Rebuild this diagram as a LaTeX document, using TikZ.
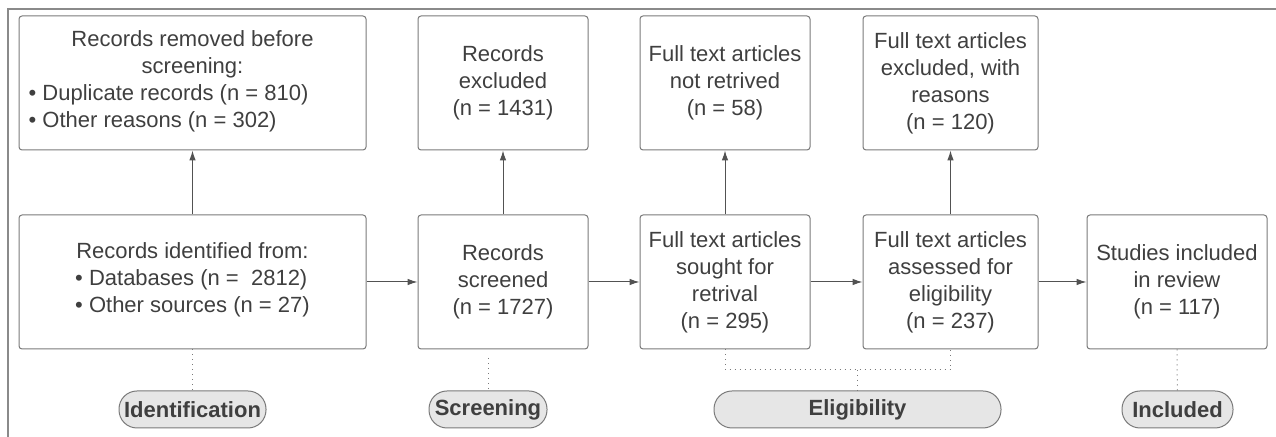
\documentclass[tikz,border=0pt]{standalone}
\usepackage{fontspec}
\setmainfont{Liberation Sans}
\usepackage{tikz}
\usetikzlibrary{arrows.meta}
\definecolor{linie}{HTML}{7A7A7A}
\definecolor{schrift}{HTML}{3F3F3F}
\definecolor{rahmenfarbe}{HTML}{8A8A8A}
\definecolor{phasenfill}{HTML}{E6E6E6}
\tikzset{kasten/.style={draw=linie, line width=0.5pt, rounded corners=1.5pt, text=schrift, align=center, minimum height=67pt, minimum width=#1, inner sep=0pt, font=\fontsize{11}{13.5}\selectfont},kasten/.default={85pt}}
\tikzset{phasenfeld/.style={draw=linie, line width=0.5pt, fill=phasenfill, rounded corners=9pt, text=schrift, minimum height=18.5pt, minimum width=#1, inner sep=0pt, font=\fontsize{11}{13.5}\selectfont\bfseries}}
\tikzset{pfeil/.style={-{Latex[length=5pt,width=3.3pt]}, draw=schrift!90, line width=0.5pt}}
\tikzset{punkte/.style={draw=linie, dotted, line width=0.5pt}}

\begin{document}
\begin{tikzpicture}[x=0.5pt, y=-0.5pt]
	\useasboundingbox (0,0) rectangle (1276,437);
	%Rahmen
	\draw[rahmenfarbe, line width=1pt] (8,437) -- (8,9.5) -- (1276,9.5);
	%Obere Reihe
	\node[kasten=173.5pt] (entfernt) at (192.5,83) {Records removed before\\screening:\\\begin{tabular}[t]{@{}l@{}}• Duplicate records (n = 810)\\• Other reasons (n = 302)\end{tabular}\hspace*{24pt}};
	\node[kasten=85pt] (ausgeschl) at (503,83) {Records\\excluded\\(n = 1431)};
	\node[kasten=85pt] (nichtgef) at (725,83) {Full text articles\\not retrived\\(n = 58)};
	\node[kasten=87.5pt] (volltextaus) at (950.5,83) {Full text articles\\excluded, with\\reasons\\(n = 120)};
	%Untere Reihe
	\node[kasten=173.5pt] (identif) at (192.5,282) {Records identified from:\\\begin{tabular}[t]{@{}l@{}}• Databases (n =~ 2812)\\• Other sources (n = 27)\end{tabular}};
	\node[kasten=85pt] (gescreent) at (503,282) {Records\\screened\\(n = 1727)};
	\node[kasten=85pt] (gesucht) at (725,282) {Full text articles\\sought for\\retrival\\(n = 295)};
	\node[kasten=87.5pt] (bewertet) at (950.5,282) {Full text articles\\assessed for\\eligibility\\(n = 237)};
	\node[kasten=90pt] (eingeschl) at (1177,282) {Studies included\\in review\\(n = 117)};
	%Pfeile
	\draw[pfeil] (identif) -- (entfernt);
	\draw[pfeil] (gescreent) -- (ausgeschl);
	\draw[pfeil] (gesucht) -- (nichtgef);
	\draw[pfeil] (bewertet) -- (volltextaus);
	\draw[pfeil] (identif) -- (gescreent);
	\draw[pfeil] (gescreent) -- (gesucht);
	\draw[pfeil] (gesucht) -- (bewertet);
	\draw[pfeil] (bewertet) -- (eingeschl);
	%Phasen
	\node[phasenfeld=73.5pt] (phIdent) at (192.5,409.5) {Identification};
	\node[phasenfeld=59pt] (phScreen) at (488,409.5) {Screening};
	\node[phasenfeld=143.5pt] (phElig) at (857.5,409.5) {Eligibility};
	\node[phasenfeld=55.5pt] (phIncl) at (1177.5,409.5) {Included};
	\coordinate (screenOben) at (488,358);
	\coordinate (knick) at (857.5,370);
	\draw[punkte] (identif.south) -- (phIdent);
	\draw[punkte] (screenOben) -- (phScreen);
	\draw[punkte] (gesucht.south) |- (knick) -| (bewertet.south);
	\draw[punkte] (knick) -- (phElig);
	\draw[punkte] (eingeschl.south) -- (phIncl);
\end{tikzpicture}
\end{document}
